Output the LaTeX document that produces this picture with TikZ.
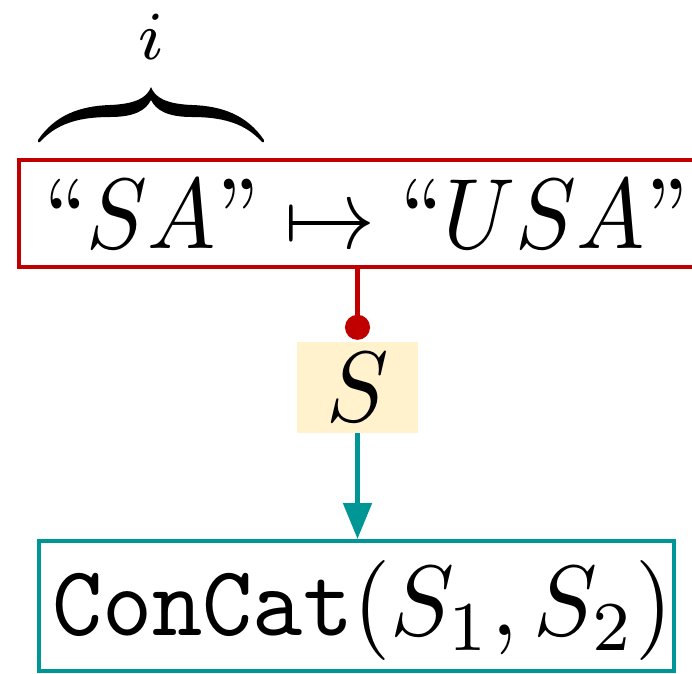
\RequirePackage{fix-cm}
\documentclass[tikz,border=0pt]{standalone}
\usetikzlibrary{arrows.meta}
\definecolor{myred}{RGB}{192,0,0}
\definecolor{myteal}{RGB}{0,150,150}
\definecolor{myyellow}{RGB}{255,242,204}
\newcommand{\bigtxt}[1]{\scalebox{9.3}[10]{\fontsize{10}{12}\selectfont #1}}
\newcommand{\optxt}[1]{\scalebox{9.55}[10]{\fontsize{10}{12}\selectfont #1}}
\newcommand{\ruletxt}[1]{\scalebox{9.1}[10]{\fontsize{10}{12}\selectfont #1}}
\newcommand{\idxtxt}[1]{\scalebox{9.5}[9.8]{\fontsize{7}{8}\selectfont #1}}
\tikzset{
  rulebox/.style={draw=myred, line width=4pt, minimum height=107pt, inner xsep=25pt, inner ysep=0pt, anchor=west},
  symbox/.style={fill=myyellow, minimum width=121pt, minimum height=91pt, inner sep=0pt},
  opbox/.style={draw=myteal, line width=4pt, minimum width=635pt, minimum height=130pt, inner sep=0pt, text height=83pt, text depth=25pt},
  idxlabel/.style={inner sep=0pt},
  redlink/.style={myred, line width=4.5pt, -{Circle[length=25pt]}, shorten >=2pt},
  teallink/.style={myteal, line width=5pt, -{Triangle[length=36pt, width=28pt]}},
}
\begin{document}
\begin{tikzpicture}[x=1pt,y=-1pt]
\useasboundingbox (0,0) rectangle (692,673);
\clip (0,0) rectangle (692,673);
\node[rulebox] (rule) at (17,213.5) {\ruletxt{$\mbox{``}SA\mbox{''}\mapsto\mbox{``}USA\mbox{''}$}};
\node[symbox] (sym) at (357.5,387.5) {\bigtxt{$S$}};
\node[opbox] (op) at (356.5,606) {\hspace*{12pt}\optxt{\texttt{ConCat}$(S_1,S_2)$}};
\draw[redlink] (rule.south -| sym.north) -- (sym.north);
\draw[teallink] (sym.south) -- (sym.south |- op.north);
% brace
\fill (38,140) .. controls (55,115) and (80,106) .. (110,105)
  .. controls (135,104) and (147,98) .. (151,87)
  .. controls (155,98) and (167,104) .. (192,105)
  .. controls (222,106) and (247,115) .. (264,140)
  .. controls (265,142) and (263,143) .. (262,142)
  .. controls (245,123) and (222,117) .. (192,117)
  .. controls (167,117) and (156,110) .. (151,100)
  .. controls (146,110) and (135,117) .. (110,117)
  .. controls (80,117) and (57,123) .. (40,142)
  .. controls (39,143) and (37,142) .. (38,140) -- cycle;
\node[idxlabel] (idx) at (151,36.5) {\idxtxt{$i$}};
\end{tikzpicture}
\end{document}
